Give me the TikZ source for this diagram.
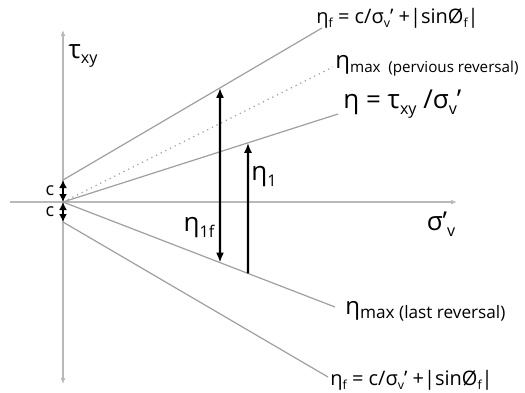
\documentclass[tikz,border=0pt]{standalone}
\usepackage{fontspec}
\setmainfont{Open Sans}
\usetikzlibrary{arrows.meta,calc}
\newcommand{\lo}[1]{\raisebox{-0.4ex}{\scalebox{0.62}{#1}}}
\newcommand{\lomax}[2]{\raisebox{-0.35ex}{\fontsize{#1}{8}\selectfont #2}}
\tikzset{
  axis/.style={gray!55, line width=0.6pt},
  ray/.style={gray!75, line width=0.6pt},
  bar/.style={black, line width=1.1pt},
  big/.style={font=\fontsize{13}{14}\selectfont, inner sep=0pt},
  mid/.style={font=\fontsize{10}{12}\selectfont, inner sep=0pt, anchor=west},
  small/.style={font=\fontsize{9}{10}\selectfont, inner sep=0pt},
}
\begin{document}
\begin{tikzpicture}[x=0.5pt,y=-0.5pt]
  \useasboundingbox (0,0) rectangle (525,392);
  % axes
  \coordinate (O) at (63,202);
  \coordinate (cup) at (63,180);
  \coordinate (cdn) at (63,222);
  \coordinate (ytop) at (63,30);
  \coordinate (ybot) at (63,384);
  \coordinate (xleft) at (10,202);
  \coordinate (xright) at (457,202);
  \draw[axis,-{Latex[length=3pt,width=2.5pt]}] (O) -- (ytop);
  \draw[axis,-{Latex[length=3pt,width=2.5pt]}] (O) -- (ybot);
  \draw[axis,-{Latex[length=3pt,width=2.5pt]}] (xleft) -- (xright);
  \node[big] (tau) at (83,56) {τ\lo{xy}};
  \node[big] (sigma) at (441,224) {σ'\lo{v}};
  % ends of the lines
  \coordinate (fup) at (322,28);
  \coordinate (prev) at (333,67);
  \coordinate (eta) at (338,114);
  \coordinate (last) at (335,307);
  \coordinate (fdn) at (328,377);
  \draw[ray] (cup) -- (fup);
  \draw[ray, dotted] (O) -- (prev);
  \draw[ray] (O) -- (eta);
  \draw[ray] (O) -- (last);
  \draw[ray] (cdn) -- (fdn);
  % labels of the lines
  \node[mid] (lfup) at (316,18) {η\lo{f} = c/σ\lo{v}' +|sinØ\lo{f}|};
  \node[mid, anchor=base west] (lprev) at (335,68) {\fontsize{12}{12}\selectfont η\lomax{7.6}{max\enspace(pervious reversal)}};
  \node[mid, anchor=west] (leta) at (343,104) {\fontsize{13}{14}\selectfont η = τ\lo{xy} /σ\lo{v}'};
  \node[mid, anchor=base west] (llast) at (345,314) {\fontsize{12}{12}\selectfont η\lomax{8.6}{max (last reversal)}};
  \node[mid] (lfdn) at (330,380) {η\lo{f} = c/σ\lo{v}' +|sinØ\lo{f}|};
  % c
  \draw[bar,{Latex[length=4pt,width=4pt]}-{Latex[length=4pt,width=4pt]}] (O) -- (cup);
  \draw[bar,{Latex[length=4pt,width=4pt]}-{Latex[length=4pt,width=4pt]}] (O) -- (cdn);
  \node[small] (c1) at (50,191) {c};
  \node[small] (c2) at (50,212) {c};
  % eta arrows
  \coordinate (a1) at ($(cup)!{(220-63)/(322-63)}!(fup)$);
  \coordinate (a2) at ($(O)!{(220-63)/(335-63)}!(last)$);
  \coordinate (b1) at ($(O)!{(248-63)/(338-63)}!(eta)$);
  \coordinate (b2) at ($(O)!{(248-63)/(335-63)}!(last)$);
  \draw[bar,{Latex[length=5pt,width=4pt]}-{Latex[length=5pt,width=4pt]}] (a1) -- (a2);
  \draw[bar,-{Latex[length=5pt,width=4pt]}] (b2) -- (b1);
  \node[big] (l1f) at (199,228) {η\lo{1f}};
  \node[big] (l1) at (264,177) {η\lo{1}};
\end{tikzpicture}
\end{document}
